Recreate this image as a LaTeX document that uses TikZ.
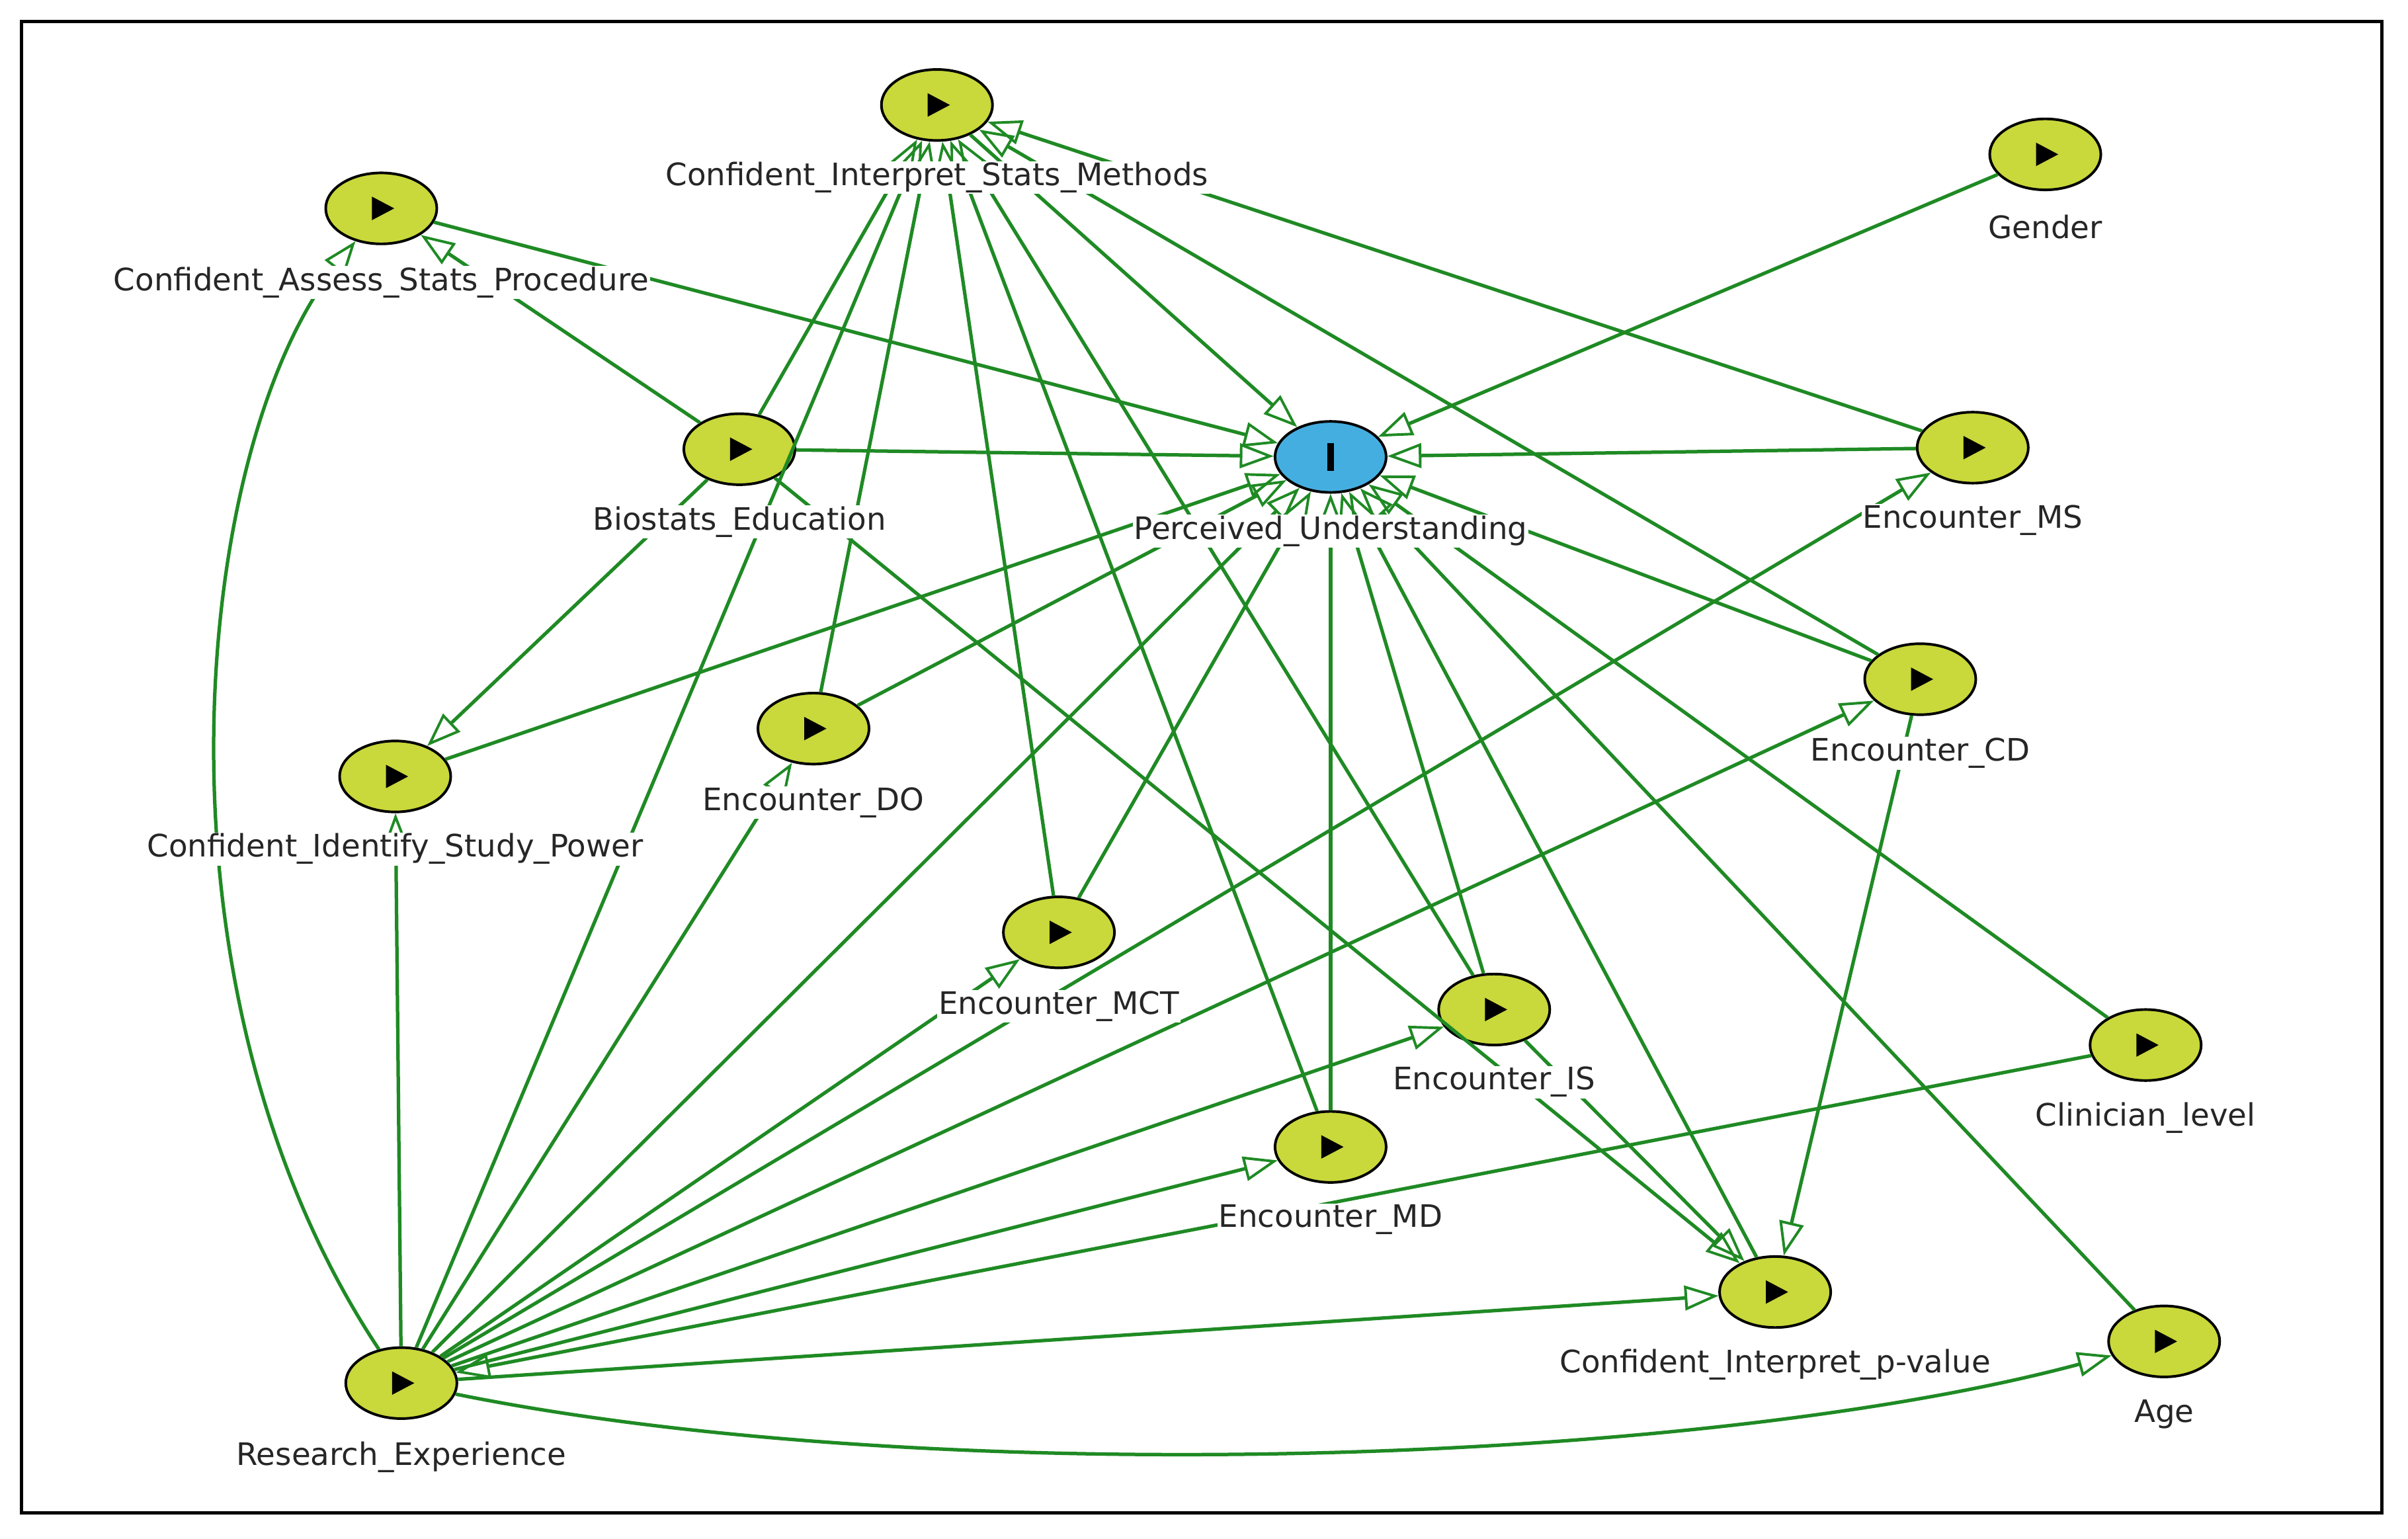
\documentclass[tikz,border=0pt]{standalone}
\usepackage{fontspec}
\setmainfont{DejaVu Sans}
\usetikzlibrary{arrows.meta,shapes.geometric}
\definecolor{ygreen}{HTML}{C9D83A}
\definecolor{eg}{HTML}{1F8A24}
\definecolor{pblue}{HTML}{45AEE0}
\begin{document}
\begin{tikzpicture}[x=0.05cm,y=-0.05cm,
  nd/.style={ellipse,draw=black,line width=2.4pt,fill=ygreen,minimum width=3.6cm,minimum height=2.3cm,inner sep=0pt,
    path picture={\fill[black] ([xshift=-0.3cm,yshift=0.38cm]path picture bounding box.center) -- ++(0.72cm,-0.38cm) -- ++(-0.72cm,-0.38cm) -- cycle;}},
  pu/.style={ellipse,draw=black,line width=2.4pt,fill=pblue,minimum width=3.6cm,minimum height=2.3cm,inner sep=0pt,
    path picture={\fill[black] ([xshift=-0.1cm,yshift=-0.45cm]path picture bounding box.center) rectangle ++(0.2cm,0.9cm);}},
  lab/.style={font=\fontsize{28.5}{32}\selectfont,text=black!85,fill=white,inner sep=1pt},
  e/.style={draw=eg,line width=3.2pt,-{Triangle[open,length=1.1cm,width=0.8cm,line width=2.4pt]}},
]
\useasboundingbox (0,0) rectangle (1560,997);
\fill[white] (0,0) rectangle (1560,997);
\draw[line width=3pt] (14,14) rectangle (1543,980);

\node[nd] (CISM) at (607,68) {};
\node[nd] (CASP) at (247,135) {};
\node[nd] (Gen) at (1325,100) {};
\node[nd] (Bio) at (479,291) {};
\node[pu] (PU) at (862,296) {};
\node[nd] (MS) at (1278,290) {};
\node[nd] (CD) at (1244,440) {};
\node[nd] (DO) at (527,472) {};
\node[nd] (CISP) at (256,503) {};
\node[nd] (MCT) at (686,604) {};
\node[nd] (IS) at (968,654) {};
\node[nd] (Cli) at (1390,677) {};
\node[nd] (MD) at (862,743) {};
\node[nd] (CIPV) at (1150,837) {};
\node[nd] (Age) at (1402,869) {};
\node[nd] (RE) at (260,896) {};

% into PU
\foreach \s in {Bio,CASP,CISM,Gen,MS,CD,DO,MCT,MD,IS,CIPV,Cli,Age,RE,CISP}
  \draw[e] (\s) -- (PU);
% into CISM
\foreach \s in {Bio,RE,DO,MCT,MD,IS,CD,MS}
  \draw[e] (\s) -- (CISM);
\draw[e] (Bio) -- (CASP);
\draw[e] (RE) .. controls (90,640) and (125,290) .. (CASP);
\draw[e] (Bio) -- (CISP);
\draw[e] (RE) -- (CISP);
\foreach \t in {DO,MCT,MS,CD,IS,MD,CIPV}
  \draw[e] (RE) -- (\t);
\draw[e] (RE) .. controls (600,965) and (1100,950) .. (Age);
\draw[e] (Cli) -- (RE);
\draw[e] (Bio) -- (CIPV);
\draw[e] (IS) -- (CIPV);
\draw[e] (CD) -- (CIPV);

\node[lab] (lCISM) at (607,115) {Confident\_Interpret\_Stats\_Methods};
\node[lab] (lCASP) at (247,183) {Confident\_Assess\_Stats\_Procedure};
\node[lab] (lGen) at (1325,147) {Gender};
\node[lab] (lBio) at (479,338) {Biostats\_Education};
\node[lab] (lPU) at (862,344) {Perceived\_Understanding};
\node[lab] (lMS) at (1278,337) {Encounter\_MS};
\node[lab] (lCD) at (1244,488) {Encounter\_CD};
\node[lab] (lDO) at (527,520) {Encounter\_DO};
\node[lab] (lCISP) at (256,550) {Confident\_Identify\_Study\_Power};
\node[lab] (lMCT) at (686,652) {Encounter\_MCT};
\node[lab] (lIS) at (968,701) {Encounter\_IS};
\node[lab] (lCli) at (1390,724) {Clinician\_level};
\node[lab] (lMD) at (862,790) {Encounter\_MD};
\node[lab] (lCIPV) at (1150,884) {Confident\_Interpret\_p-value};
\node[lab] (lAge) at (1402,916) {Age};
\node[lab] (lRE) at (260,944) {Research\_Experience};
\end{tikzpicture}
\end{document}
